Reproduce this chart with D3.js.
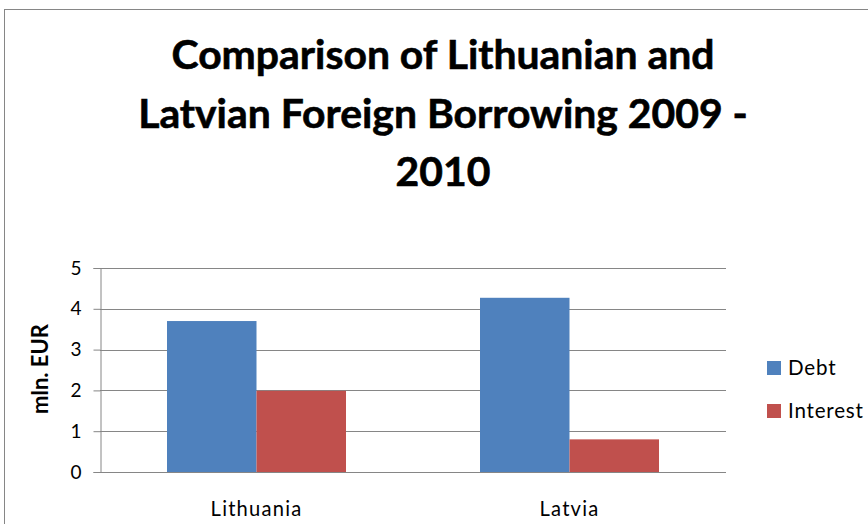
<!DOCTYPE html>
<html>
<head>
<meta charset="utf-8">
<script src="https://cdn.jsdelivr.net/npm/d3@7"></script>
<style>
  html, body { margin: 0; padding: 0; background: #fff; }
  svg { display: block; }
  text { font-family: Lato, "Open Sans", "Liberation Sans", sans-serif; fill: #000; }
</style>
</head>
<body>
<svg id="chart" width="868" height="524"></svg>
<script>
const categories = ["Lithuania", "Latvia"];
const seriesNames = ["Debt", "Interest"];
const debtValues = [3.7, 4.27];
const interestValues = [1.99, 0.8];
const yTicks = [0, 1, 2, 3, 4, 5];
const titleLines = ["Comparison of Lithuanian and", "Latvian Foreign Borrowing 2009 -", "2010"];
const yAxisTitle = "mln. EUR";
const colors = ["#4F81BD", "#C0504D"];

const svg = d3.select("#chart");
const plot = { left: 100, right: 726, top: 268, bottom: 472 };

function fitSize(str, target, weight, spacing) {
  const p = svg.append("text").attr("font-size", 20).attr("font-weight", weight || "normal")
    .attr("letter-spacing", spacing || 0).text(str);
  const w = p.node().getComputedTextLength();
  p.remove();
  return 20 * target / w;
}

// outer chart border (extends beyond the canvas on right and bottom)
svg.append("rect")
  .attr("x", 4.5).attr("y", 9.5)
  .attr("width", 1000).attr("height", 1000)
  .attr("fill", "#fff").attr("stroke", "#868686").attr("stroke-width", 1);

// title
const titleG = svg.append("g");
const baselines = [69, 128, 186];
const titleCenter = 443;
const titleSize = Math.min(42, fitSize(titleLines[1], 610, "bold"));
titleLines.forEach((t, i) => {
  titleG.append("text")
    .attr("x", titleCenter).attr("y", baselines[i])
    .attr("text-anchor", "middle")
    .attr("font-weight", "bold")
    .attr("font-size", titleSize)
    .style("paint-order", "stroke").attr("stroke", "#000").attr("stroke-width", 0.6)
    .text(t);
});

// scales
const y = d3.scaleLinear().domain([0, 5]).range([plot.bottom, plot.top]);
const x0 = d3.scaleBand().domain(categories).range([plot.left, plot.right])
  .paddingInner(134 / 313).paddingOuter(67 / 313);
const x1 = d3.scaleBand().domain(seriesNames).range([0, x0.bandwidth()]).padding(0);

// gridlines
svg.append("g")
  .selectAll("line")
  .data(yTicks.filter(d => d > 0))
  .join("line")
  .attr("x1", plot.left).attr("x2", plot.right)
  .attr("y1", d => Math.round(y(d)) + 0.5).attr("y2", d => Math.round(y(d)) + 0.5)
  .attr("stroke", "#868686").attr("stroke-width", 1);

// bars
const data = categories.map((c, i) => ({ cat: c, vals: [
  { s: seriesNames[0], v: debtValues[i] },
  { s: seriesNames[1], v: interestValues[i] }
]}));

svg.append("g").selectAll("g")
  .data(data)
  .join("g")
  .attr("transform", d => `translate(${x0(d.cat)},0)`)
  .selectAll("rect")
  .data(d => d.vals)
  .join("rect")
  .attr("x", d => x1(d.s))
  .attr("width", x1.bandwidth())
  .attr("y", d => y(d.v))
  .attr("height", d => y(0) - y(d.v))
  .attr("fill", (d, i) => colors[i]);

// y axis
const yAxis = d3.axisLeft(y).tickValues(yTicks).tickSize(7).tickPadding(12).tickFormat(d3.format("d"));
const yg = svg.append("g").attr("transform", `translate(${plot.left + 0.5},0)`).call(yAxis);
yg.select(".domain").attr("stroke", "#868686");
yg.selectAll(".tick line").attr("stroke", "#868686");
yg.selectAll(".tick text").attr("font-size", 19).attr("font-family", "Lato, 'Open Sans', sans-serif").attr("fill", "#000");

// x axis (baseline)
const xAxis = d3.axisBottom(x0).tickSize(0).tickPadding(0);
const xg = svg.append("g").attr("transform", `translate(0,${plot.bottom + 0.5})`).call(xAxis);
xg.select(".domain").attr("stroke", "#868686").attr("d", `M${plot.left},0H${plot.right}`);
const xLabSize = fitSize(categories[0], 92, "normal", 1.2);
xg.selectAll(".tick text")
  .attr("font-size", xLabSize).attr("font-family", "Lato, 'Open Sans', sans-serif")
  .attr("fill", "#000").attr("letter-spacing", 1.2)
  .attr("dy", 0).attr("y", 43);

// y axis title
svg.append("text")
  .attr("transform", `translate(48,369) rotate(-90)`)
  .attr("text-anchor", "middle")
  .attr("font-weight", "bold")
  .attr("font-size", fitSize(yAxisTitle, 90, "bold"))
  .text(yAxisTitle);

// legend
const legend = svg.append("g");
const legSize = fitSize(seriesNames[1], 76, "normal", 0.8);
seriesNames.forEach((s, i) => {
  const ly = 361 + i * 43;
  legend.append("rect").attr("x", 767).attr("y", ly).attr("width", 14).attr("height", 14).attr("fill", colors[i]);
  legend.append("text").attr("x", 788).attr("y", ly + 14)
    .attr("font-size", legSize).attr("letter-spacing", 0.8).text(s);
});
</script>
</body>
</html>
